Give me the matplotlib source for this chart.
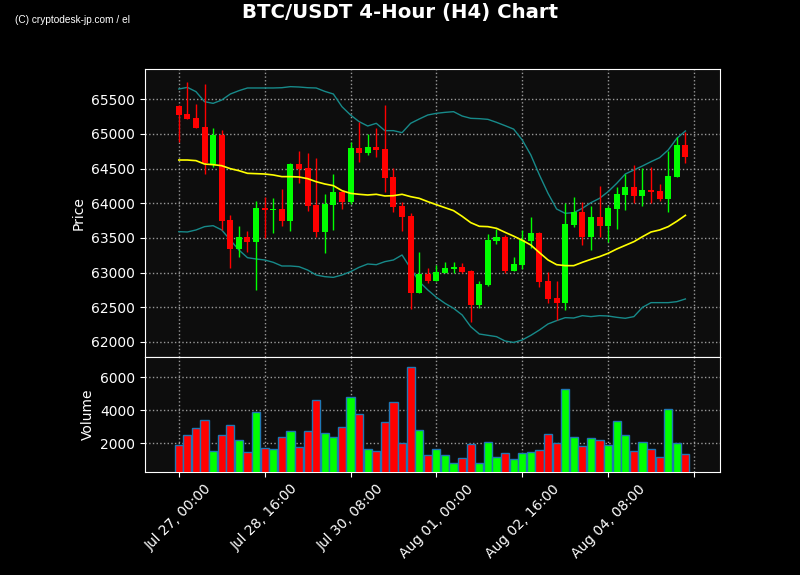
import numpy as np
import matplotlib.pyplot as plt

# 4h candles, index 0..59
opens = [65404, 65288, 65231, 65101, 64562, 64985, 63758, 63339, 63513, 63440,
         63931, 63907, 63917, 63748, 64566, 64509, 63975, 63590, 63979, 64162,
         64023, 64797, 64730, 64812, 64783, 64379, 63960, 63816, 62709, 62979,
         62882, 62998, 63056, 63075, 63022, 62531, 62820, 63455, 63513, 63022,
         63113, 63460, 63570, 62877, 62632, 62565, 63686, 63869, 63513, 63801,
         63676, 63922, 64124, 64234, 64109, 64191, 64177, 64066, 64384, 64841]
highs = [65420, 65745, 65428, 65717, 65091, 65052, 63825, 63667, 63594, 64028,
         64095, 64076, 64201, 64586, 64754, 64720, 64648, 64129, 64417, 64180,
         64889, 65178, 64995, 65081, 65413, 64504, 64018, 63854, 63301, 63060,
         63108, 63152, 63152, 63133, 63036, 62882, 63556, 63623, 63542, 63229,
         63614, 63797, 63590, 63002, 62873, 63999, 64085, 64023, 63965, 64244,
         63965, 64239, 64417, 64547, 64504, 64528, 64283, 64754, 64951, 65033]
lows = [64879, 65210, 65085, 64417, 64528, 63614, 63060, 63219, 63291, 62748,
        63503, 63566, 63667, 63594, 64287, 63883, 63508, 63277, 63609, 63912,
        63989, 64600, 64692, 64672, 64167, 63878, 63604, 62468, 62700, 62844,
        62880, 62995, 62988, 63000, 62281, 62483, 62805, 63416, 62988, 63020,
        63056, 63349, 62786, 62555, 62314, 62459, 63662, 63392, 63320, 63513,
        63440, 63623, 63898, 63999, 63960, 63999, 64028, 63878, 64380, 64576]
closes = [65274, 65216, 65091, 64576, 64985, 63748, 63339, 63513, 63440, 63931,
          63907, 63917, 63748, 64566, 64494, 63965, 63590, 63994, 64162, 64023,
          64793, 64730, 64807, 64769, 64369, 63951, 63806, 62709, 62974, 62882,
          63007, 63060, 63075, 63007, 62531, 62834, 63469, 63513, 63022, 63123,
          63469, 63570, 62868, 62618, 62565, 63700, 63869, 63513, 63801, 63676,
          63931, 64133, 64234, 64109, 64191, 64167, 64066, 64393, 64841, 64667]
volumes = [1920, 2526, 2909, 3394, 1516, 2526, 3091, 2182, 1455, 3879,
           1697, 1637, 2364, 2727, 1798, 2727, 4606, 2606, 2364, 3010,
           4788, 3758, 1677, 1516, 3273, 4485, 2000, 6606, 2788, 1273,
           1637, 1273, 829, 1091, 1940, 829, 2061, 1152, 1394, 1031,
           1394, 1455, 1576, 2546, 2000, 5273, 2364, 1818, 2303, 2182,
           1879, 3334, 2485, 1516, 2061, 1637, 1152, 4061, 2000, 1334]

# 20-period moving average and Bollinger bands
ma = [64624, 64624, 64615, 64566, 64557, 64542, 64499, 64470, 64432, 64427,
      64422, 64408, 64384, 64384, 64379, 64355, 64311, 64278, 64254, 64182,
      64143, 64129, 64119, 64129, 64105, 64109, 64129, 64095, 64071, 64023,
      63979, 63936, 63893, 63811, 63720, 63667, 63662, 63638, 63580, 63525,
      63465, 63397, 63287, 63181, 63113, 63099, 63099, 63147, 63190, 63229,
      63277, 63339, 63392, 63445, 63517, 63585, 63614, 63662, 63739, 63825]
upper = [65649, 65673, 65611, 65466, 65442, 65490, 65577, 65625, 65664, 65664,
         65664, 65664, 65668, 65683, 65678, 65668, 65664, 65615, 65577, 65394,
         65274, 65178, 65115, 65154, 65048, 65048, 65019, 65154, 65216, 65274,
         65298, 65312, 65322, 65259, 65226, 65221, 65211, 65168, 65120, 65070,
         64913, 64696, 64408, 64143, 63917, 63854, 63864, 63927, 64008, 64071,
         64167, 64287, 64422, 64480, 64538, 64600, 64658, 64769, 64937, 65043]
lower = [63590, 63585, 63614, 63662, 63676, 63614, 63469, 63325, 63214, 63195,
         63181, 63147, 63094, 63094, 63084, 63036, 62964, 62940, 62930, 62964,
         63012, 63075, 63123, 63113, 63157, 63181, 63253, 63060, 62868, 62748,
         62642, 62555, 62483, 62387, 62218, 62112, 62093, 62074, 62011, 61990,
         62026, 62093, 62170, 62257, 62305, 62348, 62343, 62377, 62363, 62377,
         62372, 62353, 62339, 62363, 62497, 62565, 62565, 62565, 62579, 62618]

tick_labels = ["Jul 27, 00:00", "Jul 28, 16:00", "Jul 30, 08:00",
               "Aug 01, 00:00", "Aug 02, 16:00", "Aug 04, 08:00"]

x = np.arange(len(opens))
colors = ["#00ff00" if c >= o else "#ff0000" for o, c in zip(opens, closes)]

fig = plt.figure(figsize=(8, 5.75), dpi=100, facecolor="black")
ax = fig.add_axes([0.181, 0.379, 0.719, 0.501])
axv = fig.add_axes([0.181, 0.179, 0.719, 0.2], sharex=ax)

for a in (ax, axv):
    a.set_facecolor("#0d0d0d")
    for s in a.spines.values():
        s.set_color("white")
    a.tick_params(colors="white", labelsize=10)
    a.grid(True, color="#999999", linestyle=":", linewidth=1)
    a.set_axisbelow(True)

# candles
ax.vlines(x, lows, highs, colors=colors, linewidth=1, zorder=3)
body_bottom = np.minimum(opens, closes)
body_height = np.maximum(np.abs(np.array(closes) - np.array(opens)), 8)
ax.bar(x, body_height, bottom=body_bottom, width=0.7, color=colors, zorder=4)

ax.plot(x, ma, color="#ffff00", linewidth=1.2, zorder=5)
ax.plot(x, upper, color="#178a8a", linewidth=1, zorder=2)
ax.plot(x, lower, color="#178a8a", linewidth=1, zorder=2)

ax.set_ylim(61779, 65938)
ax.set_yticks([62000, 62500, 63000, 63500, 64000, 64500, 65000, 65500])
ax.set_ylabel("Price", color="white", fontsize=10)
ax.tick_params(axis="x", labelbottom=False)

axv.bar(x, volumes, width=0.95, color=colors, edgecolor="#1f77b4", linewidth=1, zorder=3)
axv.set_ylim(261, 7230)
axv.set_yticks([2000, 4000, 6000])
axv.set_ylabel("Volume", color="white", fontsize=10)

axv.set_xlim(-3.96, 63.03)
axv.set_xticks(np.arange(0, 61, 10))
axv.set_xticklabels(tick_labels + [""], rotation=45)

fig.suptitle("BTC/USDT 4-Hour (H4) Chart", color="white", fontsize=14.2,
             fontweight="bold", y=0.995)
fig.text(0.019, 0.96, "(C) cryptodesk-jp.com / el", color="white", fontsize=7.3,
         family="Liberation Sans")

fig.savefig("out.png", dpi=100, facecolor="black")
